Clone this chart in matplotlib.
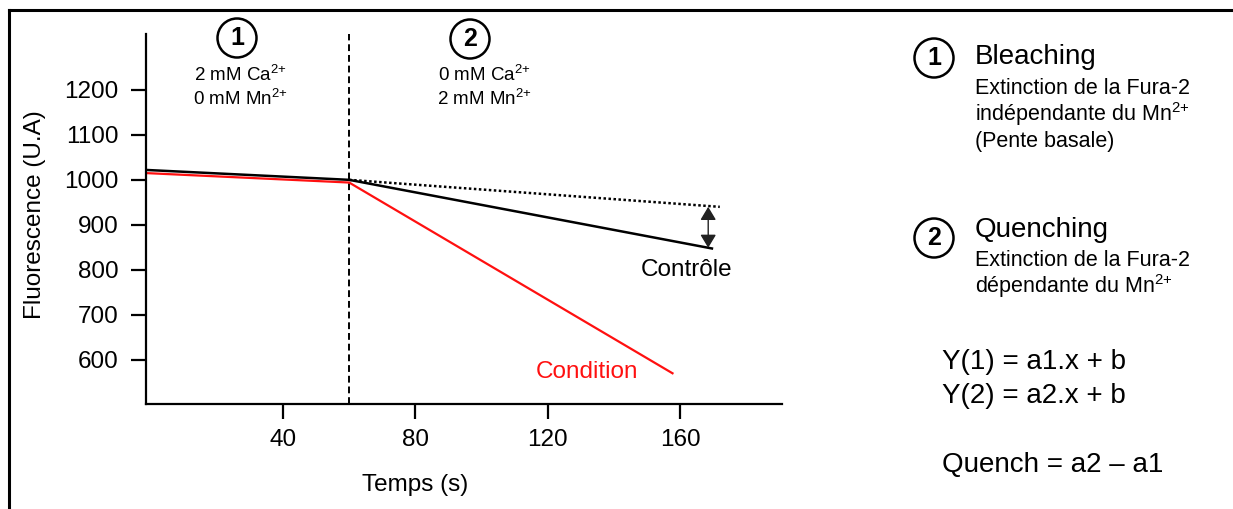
import matplotlib
matplotlib.use("Agg")
import matplotlib.pyplot as plt
from matplotlib.lines import Line2D

plt.rcParams['font.family'] = ['Liberation Sans', 'DejaVu Sans']
plt.rcParams['mathtext.fontset'] = 'custom'
plt.rcParams['mathtext.rm'] = 'Liberation Sans'
plt.rcParams['mathtext.it'] = 'Liberation Sans'
plt.rcParams['mathtext.bf'] = 'Liberation Sans:bold'

# ---- data ----
control_t = [-1.4, 60, 170]
control_f = [1022, 1000, 847]
condition_t = [-1.4, 60, 158]
condition_f = [1015, 994, 569]
basal_t = [60, 172]
basal_f = [1000, 940]
switch_t = 60
arrow_t = 168.5
arrow_f = [940, 849]
x_ticks = [40, 80, 120, 160]
y_ticks = [600, 700, 800, 900, 1000, 1100, 1200]

W, H = 1233, 509
fig = plt.figure(figsize=(W / 100, H / 100), dpi=100)


def fx(x):
    return x / W


def fy(y):
    return 1 - y / H


ax = fig.add_axes([fx(146), fy(404), fx(782) - fx(146), fy(34) - fy(404)])
ax.set_xlim(-1.4, 190.8)
ax.set_ylim(502, 1324)

for s in ['top', 'right']:
    ax.spines[s].set_visible(False)
for s in ['left', 'bottom']:
    ax.spines[s].set_linewidth(1.6)

ax.set_xticks(x_ticks)
ax.set_yticks(y_ticks)
ax.tick_params(axis='both', length=11, width=1.6, labelsize=17.5)
ax.tick_params(axis='y', pad=9)
ax.tick_params(axis='x', pad=7)

ax.axvline(switch_t, color='black', lw=1.4, linestyle=(0, (3.5, 2)))
ax.plot(basal_t, basal_f, color='black', lw=1.8, linestyle=(0, (1, 1)))
ax.plot(control_t, control_f, color='black', lw=1.8, solid_capstyle='butt')
ax.plot(condition_t, condition_f, color='#ff1010', lw=1.6, solid_capstyle='butt')
ax.annotate('', xy=(arrow_t, arrow_f[0]), xytext=(arrow_t, arrow_f[1]),
            arrowprops=dict(arrowstyle='<|-|>,head_length=0.5,head_width=0.3',
                            color='#222222', lw=1.0,
                            mutation_scale=16, shrinkA=0, shrinkB=0))

ax.text(162, 800, 'Contrôle', fontsize=17.5, color='black', ha='center', va='center')
ax.text(132, 573, 'Condition', fontsize=17.5, color='#ff1010', ha='center', va='center')

fig.text(fx(35), fy(215), 'Fluorescence (U.A)', rotation=90, fontsize=17.5,
         ha='center', va='center')
fig.text(fx(415), fy(485), 'Temps (s)', fontsize=17.5, ha='center', va='center')


def circled(x, y, label):
    fig.text(fx(x), fy(y), label, fontsize=18, fontweight='bold', ha='center',
             va='center',
             bbox=dict(boxstyle='circle,pad=0.3', fc='white', ec='black', lw=1.8))


circled(237, 38, '1')
circled(470, 39, '2')
circled(934, 58, '1')
circled(934, 238, '2')

SUP = '$^{2{+}}$'
fig.text(fx(240), fy(75), '2 mM Ca' + SUP, fontsize=13.5, ha='center', va='center')
fig.text(fx(240), fy(99), '0 mM Mn' + SUP, fontsize=13.5, ha='center', va='center')
fig.text(fx(484), fy(75), '0 mM Ca' + SUP, fontsize=13.5, ha='center', va='center')
fig.text(fx(484), fy(99), '2 mM Mn' + SUP, fontsize=13.5, ha='center', va='center')

fig.text(fx(975), fy(57), 'Bleaching', fontsize=20, ha='left', va='center')
fig.text(fx(975), fy(88), 'Extinction de la Fura-2', fontsize=15.5, ha='left', va='center')
fig.text(fx(975), fy(114), 'indépendante du Mn' + SUP, fontsize=15.5, ha='left', va='center')
fig.text(fx(975), fy(141), '(Pente basale)', fontsize=15.5, ha='left', va='center')

fig.text(fx(975), fy(230), 'Quenching', fontsize=20, ha='left', va='center')
fig.text(fx(975), fy(260), 'Extinction de la Fura-2', fontsize=15.5, ha='left', va='center')
fig.text(fx(975), fy(286), 'dépendante du Mn' + SUP, fontsize=15.5, ha='left', va='center')

fig.text(fx(942), fy(362), 'Y(1) = a1.x + b', fontsize=20, ha='left', va='center')
fig.text(fx(942), fy(396), 'Y(2) = a2.x + b', fontsize=20, ha='left', va='center')
fig.text(fx(942), fy(465), 'Quench = a2 – a1', fontsize=20, ha='left', va='center')

fig.add_artist(Line2D([fx(9), 1.0], [fy(10), fy(10)], color='black', lw=2.2))
fig.add_artist(Line2D([fx(9), fx(9)], [fy(10), 0.0], color='black', lw=2.2))

fig.savefig('out.png', dpi=100)
